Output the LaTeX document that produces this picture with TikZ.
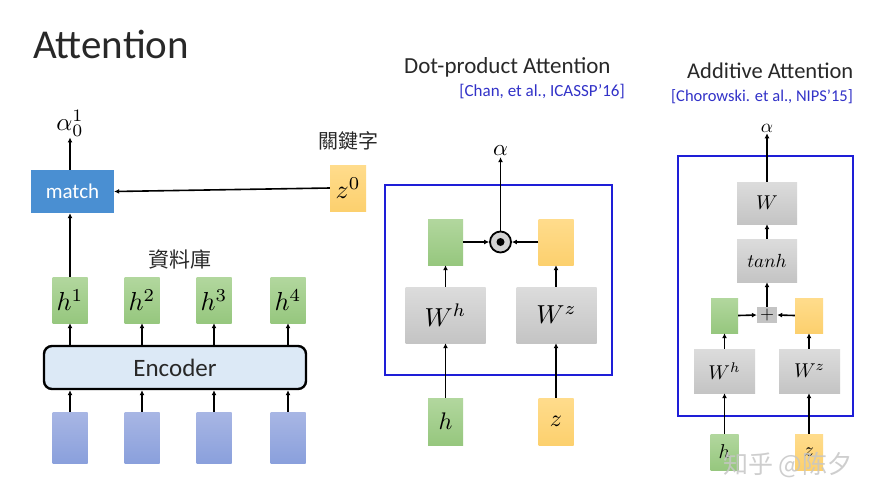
\documentclass[tikz,border=0pt]{standalone}
\usepackage{fontspec}
\setmainfont{Carlito}
\newfontfamily\cjktc{Noto Sans CJK TC}
\newfontfamily\cjksc{Noto Sans CJK SC}
\usetikzlibrary{arrows.meta}
\newcommand\mathlbl[2]{\scalebox{#1}{$#2$}}
\definecolor{matchblue}{RGB}{74,143,210}
\definecolor{gTop}{RGB}{178,215,158}
\definecolor{gBot}{RGB}{150,199,126}
\definecolor{oTop}{RGB}{255,220,140}
\definecolor{oBot}{RGB}{252,208,110}
\definecolor{wTop}{RGB}{220,220,220}
\definecolor{wBot}{RGB}{196,196,196}
\definecolor{iTop}{RGB}{168,182,228}
\definecolor{iBot}{RGB}{138,160,220}
\definecolor{encfill}{RGB}{220,233,246}
\definecolor{frameblue}{RGB}{30,30,215}
\definecolor{citeblue}{RGB}{50,50,200}
\definecolor{txt}{RGB}{40,40,40}
\tikzset{
  fs/.style={font=\fontsize{#1}{#1}\selectfont},
  arr/.style={line width=1.6pt, -{Latex[length=5pt,width=5pt]}},
  bx/.style 2 args={inner sep=0pt, minimum width=#1, minimum height=#2, text=black},
  gbox/.style={top color=gTop, bottom color=gBot},
  obox/.style={top color=oTop, bottom color=oBot},
  wbox/.style={top color=wTop, bottom color=wBot},
  ibox/.style={top color=iTop, bottom color=iBot},
  frm/.style={draw=frameblue, line width=2.8pt, inner sep=0pt},
}
\begin{document}
\begin{tikzpicture}[x=1pt,y=-1pt]
\useasboundingbox[fill=white] (0,0) rectangle (880,499);

% ---------- left part ----------
\node[anchor=base west, inner sep=0, fs=41, text=txt] (title) at (33,58) {Attention};

\node[bx={83pt}{43pt}, fill=matchblue, text=white, fs=21] (match) at (72.5,191.5) {match};
\node[inner sep=1pt] (a01) at (70,123) {\mathlbl{2.5}{\alpha_0^1}};
\node[bx={36pt}{46pt}, obox] (z0) at (348,188) {\mathlbl{2.6}{z^0}};
\node[fs=20, inner sep=0, text=txt] (kw) at (348,141) {\cjktc 關鍵字};
\node[fs=21, inner sep=0, text=txt] (db) at (180,259) {\cjktc 資料庫};

\foreach \i/\x in {1/70,2/142,3/214,4/288}{
  \node[bx={35pt}{46pt}, gbox] (h\i) at (\x,300) {\mathlbl{2.6}{h^{\i}}};
  \node[bx={35pt}{51pt}, ibox] (x\i) at (\x,437.5) {};
}
\node[draw=black, line width=2.4pt, rounded corners=8pt, fill=encfill, inner sep=0,
      minimum width=262pt, minimum height=43pt, fs=25, text=txt] (enc) at (175,367.5) {Encoder};
\foreach \i in {1,...,4}{
  \draw[arr] (x\i.north) -- (x\i.north |- enc.south);
  \draw[arr] (h\i.north |- enc.north) -- (h\i.south);
}
\draw[arr] (h1.north) -- (h1.north |- match.south);
\draw[arr] (match.north -| h1.north) -- (a01.south -| h1.north);
\draw[arr] (z0.west) -- (match.east);

% ---------- dot-product attention ----------
\node[anchor=base west, inner sep=0, fs=23, text=txt] (dptitle) at (404,73) {Dot-product Attention};
\node[anchor=base east, inner sep=0, fs=17, text=citeblue] (dpcite) at (625,96) {[Chan, et al., ICASSP’16]};
\node[frm, minimum width=227pt, minimum height=190pt] (dpframe) at (498.5,280) {};
\node[bx={35pt}{46pt}, gbox] (g1) at (445.5,242) {};
\node[bx={35pt}{46pt}, obox] (o1) at (556,242) {};
\node[circle, draw, line width=1.8pt, fill=gray!35, minimum size=21pt, inner sep=0] (dot) at (500.5,242) {};
\fill (dot.center) circle (4pt);
\node[bx={80pt}{56pt}, wbox] (Wh1) at (445.5,315) {\mathlbl{2.6}{W^h}};
\node[bx={80pt}{56pt}, wbox] (Wz1) at (556.5,315) {\mathlbl{2.6}{W^z}};
\node[bx={35pt}{47pt}, gbox] (hin) at (445.5,421.5) {\mathlbl{2.4}{h}};
\node[bx={35pt}{47pt}, obox] (zin) at (556,421.5) {\mathlbl{2.4}{z}};
\node[inner sep=1pt] (al1) at (500.5,151) {\mathlbl{2.3}{\alpha}};
\draw[arr] (hin.north) -- (hin.north |- Wh1.south);
\draw[arr] (zin.north) -- (zin.north |- Wz1.south);
\draw[arr] (g1.south |- Wh1.north) -- (g1.south);
\draw[arr] (o1.south |- Wz1.north) -- (o1.south);
\draw[arr] (g1.east) -- (dot.west);
\draw[arr] (o1.west) -- (dot.east);
\draw[arr] (dot.north) -- (al1.south);

% ---------- additive attention ----------
\node[anchor=base west, inner sep=0, fs=22.5, text=txt] (adtitle) at (687,78) {Additive Attention};
\node[anchor=base east, inner sep=0, fs=16.5, text=citeblue] (adcite) at (853,101) {[Chorowski. et al., NIPS’15]};
\node[frm, minimum width=175pt, minimum height=260pt] (adframe) at (765.5,286) {};
\node[bx={60pt}{42pt}, wbox] (W) at (767,203) {\mathlbl{2.0}{W}};
\node[bx={60pt}{43pt}, wbox] (tanh) at (767,260.5) {\mathlbl{1.9}{tanh}};
\node[bx={27pt}{35pt}, gbox] (g2) at (724.5,315.5) {};
\node[bx={28pt}{35pt}, obox] (o2) at (809,315.5) {};
\node[bx={20pt}{16pt}, fill=wBot] (plus) at (767,315) {\mathlbl{1.8}{+}};
\node[bx={61pt}{44pt}, wbox] (Wh2) at (724.5,371) {\mathlbl{2.0}{W^h}};
\node[bx={61pt}{44pt}, wbox] (Wz2) at (809.5,371) {\mathlbl{2.0}{W^z}};
\node[bx={28pt}{36pt}, gbox] (h2) at (724.5,452) {\mathlbl{2.0}{h}};
\node[bx={28pt}{36pt}, obox] (z2) at (809,452) {\mathlbl{2.0}{z}};
\node[inner sep=1pt] (al2) at (767,128) {\mathlbl{1.9}{\alpha}};
\draw[arr] (h2.north) -- (h2.north |- Wh2.south);
\draw[arr] (z2.north) -- (z2.north |- Wz2.south);
\draw[arr] (g2.south |- Wh2.north) -- (g2.south);
\draw[arr] (o2.south |- Wz2.north) -- (o2.south);
\draw[arr] (g2.east) -- (plus.west);
\draw[arr] (o2.west) -- (plus.east);
\draw[arr] (plus.north) -- (tanh.south);
\draw[arr] (tanh.north) -- (W.south);
\draw[arr] (W.north) -- (al2.south);

% watermark
\node[fs=25, inner sep=0, text=gray!45, opacity=0.85] (wm) at (788,465) {\cjksc 知乎 @陈夕};
\end{tikzpicture}
\end{document}
